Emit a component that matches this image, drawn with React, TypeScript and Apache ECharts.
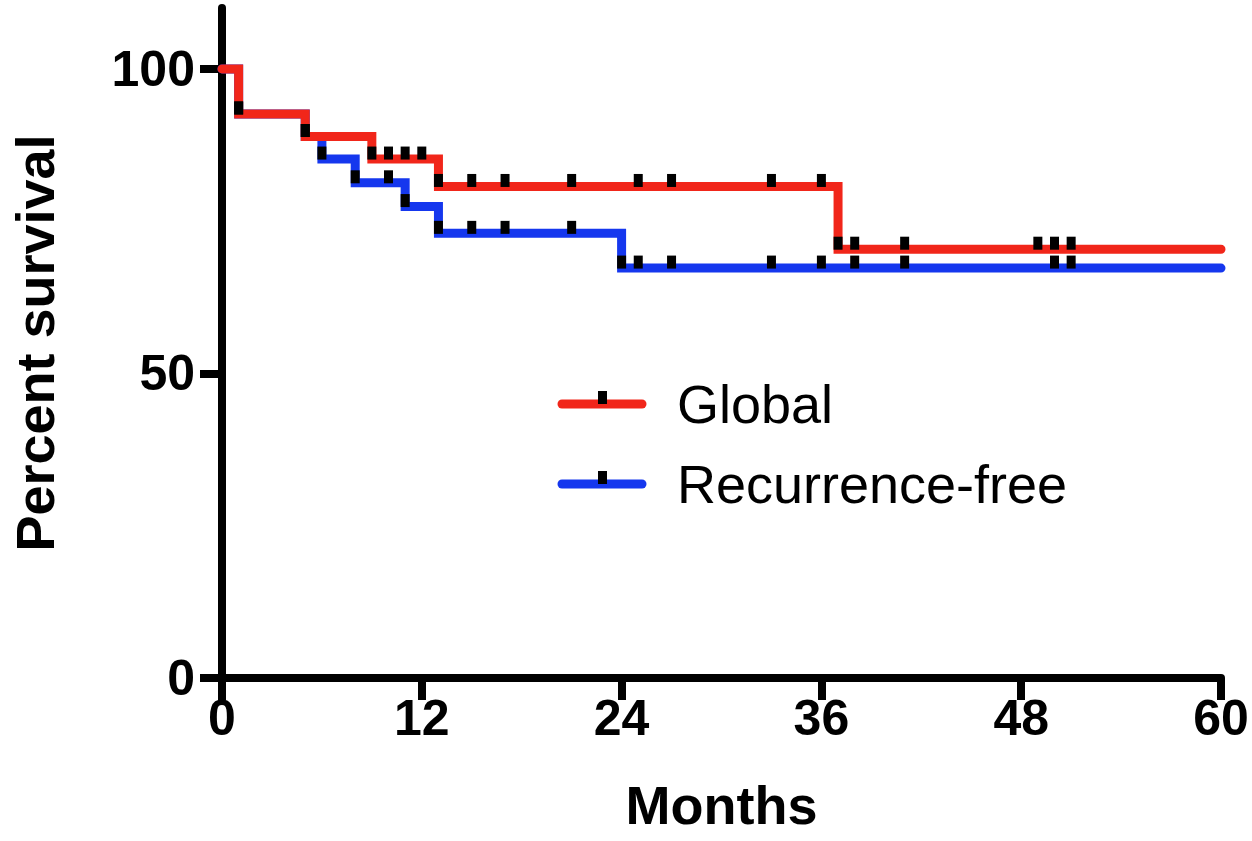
import React, { useEffect, useRef } from "react";
import * as echarts from "echarts";

// Kaplan-Meier step levels (time in months, percent survival)
const globalTimes = [0, 1, 5, 9, 13, 37, 60];
const globalSurvival = [100, 92.6, 88.9, 85.2, 80.7, 70.4, 70.4];
const rfsTimes = [0, 1, 5, 6, 8, 11, 13, 24, 60];
const rfsSurvival = [100, 92.6, 88.9, 85.2, 81.3, 77.4, 73.0, 67.3, 67.3];

// symbol (tick) positions along each curve
const globalTickTimes = [1, 5, 9, 10, 11, 12, 13, 15, 17, 21, 25, 27, 33, 36, 37, 38, 41, 49, 50, 51];
const rfsTickTimes = [1, 5, 6, 8, 10, 11, 13, 15, 17, 21, 24, 25, 27, 33, 36, 38, 41, 50, 51];

const xTicks = [0, 12, 24, 36, 48, 60];
const yTicks = [0, 50, 100];

const seriesNames = ["Global", "Recurrence-free"];
const RED = "#f1261a";
const BLUE = "#1537ee";
const FONT = "'Liberation Sans', Arial, Helvetica, sans-serif";

function levelAt(times: number[], vals: number[], t: number) {
  let v = vals[0];
  for (let i = 0; i < times.length; i++) if (times[i] <= t) v = vals[i];
  return v;
}

export default function App() {
  const ref = useRef<HTMLDivElement>(null);
  useEffect(() => {
    if (!ref.current) return;
    const chart = echarts.init(ref.current, null, { renderer: "svg" });
    const lineData = (ts: number[], vs: number[]) => ts.map((t, i) => [t, vs[i]]);
    const tickData = (tt: number[], ts: number[], vs: number[]) => tt.map((t) => [t, levelAt(ts, vs, t)]);
    const tickSeries = (data: number[][]) => ({
      type: "scatter",
      data,
      symbol: "rect",
      symbolSize: [9, 13],
      symbolOffset: [0, -6],
      itemStyle: { color: "#000", opacity: 1 },
      z: 5,
      silent: true,
    });
    const legendItem = (y: number, color: string, label: string) => [
      {
        type: "line",
        shape: { x1: 562, y1: y, x2: 642, y2: y },
        style: { stroke: color, lineWidth: 9, lineCap: "round" },
        z: 10,
      },
      { type: "rect", shape: { x: 598, y: y - 13, width: 9, height: 13 }, style: { fill: "#000" }, z: 11 },
      {
        type: "text",
        x: 677,
        y: y,
        style: { text: label, fontSize: 54, fontFamily: FONT, fill: "#000", verticalAlign: "middle", align: "left" },
        z: 11,
      },
    ];
    chart.setOption({
      animation: false,
      backgroundColor: "#fff",
      grid: { left: 220, right: 31, top: 8, bottom: 163 },
      xAxis: {
        type: "value",
        min: 0,
        max: 60,
        interval: 12,
        name: "Months",
        nameLocation: "middle",
        nameGap: 100,
        nameTextStyle: { fontSize: 54, fontWeight: "bold", fontFamily: FONT, color: "#000" },
        axisLine: { show: true, lineStyle: { color: "#000", width: 8 } },
        axisTick: { show: true, length: 22, lineStyle: { color: "#000", width: 8 }, customValues: xTicks },
        axisLabel: { margin: 15, fontSize: 50, fontWeight: "bold", fontFamily: FONT, color: "#000", customValues: xTicks },
        splitLine: { show: false },
      },
      yAxis: {
        type: "value",
        min: 0,
        max: 110,
        interval: 50,
        name: "Percent survival",
        nameLocation: "middle",
        nameGap: 160,
        nameRotate: 90,
        nameTextStyle: { fontSize: 54, fontWeight: "bold", fontFamily: FONT, color: "#000" },
        axisLine: { show: true, lineStyle: { color: "#000", width: 8 } },
        axisTick: { show: true, length: 22, lineStyle: { color: "#000", width: 8 }, customValues: yTicks },
        axisLabel: { margin: 27, fontSize: 50, fontWeight: "bold", fontFamily: FONT, color: "#000", customValues: yTicks },
        splitLine: { show: false },
      },
      series: [
        {
          name: seriesNames[1],
          type: "line",
          step: "end",
          data: lineData(rfsTimes, rfsSurvival),
          showSymbol: false,
          lineStyle: { color: BLUE, width: 9, cap: "round", join: "miter" },
          z: 2,
          silent: true,
        },
        {
          name: seriesNames[0],
          type: "line",
          step: "end",
          data: lineData(globalTimes, globalSurvival),
          showSymbol: false,
          lineStyle: { color: RED, width: 9, cap: "round", join: "miter" },
          z: 3,
          silent: true,
        },
        tickSeries(tickData(rfsTickTimes, rfsTimes, rfsSurvival)),
        tickSeries(tickData(globalTickTimes, globalTimes, globalSurvival)),
      ],
      graphic: [...legendItem(404, RED, seriesNames[0]), ...legendItem(484, BLUE, seriesNames[1])],
    });
    return () => chart.dispose();
  }, []);
  return <div ref={ref} style={{ position: "absolute", left: 0, top: 0, width: 1252, height: 841 }} />;
}
